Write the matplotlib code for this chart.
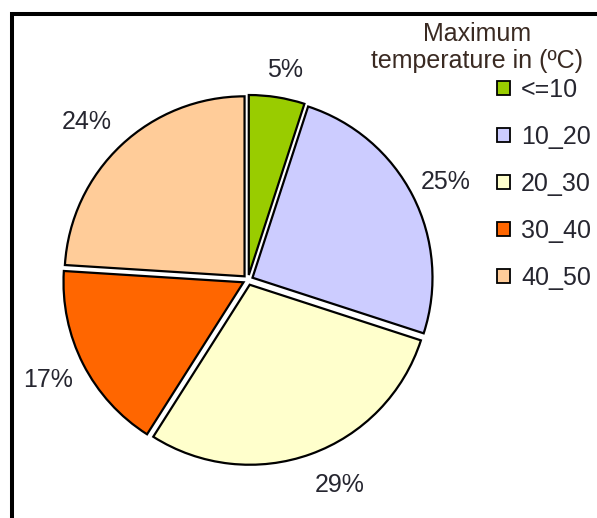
import matplotlib
matplotlib.use("Agg")
import numpy as np
import matplotlib.pyplot as plt
from matplotlib.patches import Patch, Rectangle

plt.rcParams['font.family'] = ['Liberation Sans', 'DejaVu Sans']

categories = ['<=10', '10_20', '20_30', '30_40', '40_50']
shares = [5, 25, 29, 17, 24]
colors = ['#99CC00', '#CCCCFF', '#FFFFCC', '#FF6600', '#FFCC99']
legend_title = 'Maximum\ntemperature in (ºC)'

# placement of the percentage labels: radius (pie radii) and angular nudge (deg)
label_radius = [1.20, 1.235, 1.235, 1.234, 1.265]
label_nudge = [-1.0, 0.0, 4.6, -0.9, 2.0]

W, H = 597, 518
fig = plt.figure(figsize=(W / 100, H / 100), dpi=100)

# outer chart-area border (extends past the right and bottom edges)
fig.patches.append(Rectangle((12 / W, -0.2), 1.5, 1.2 - 14 / H,
                             transform=fig.transFigure, fill=False,
                             edgecolor='black', linewidth=2.9, zorder=0))

# pie axes: centre at (248, 280) px, radius 180 px
cx, cy, R, L = 248, 280, 180, 232
ax = fig.add_axes([(cx - L) / W, (H - cy - L) / H, 2 * L / W, 2 * L / H])
lim = L / R
ax.set_aspect('equal')
ax.axis('off')

wedges, _, autotexts = ax.pie(
    shares, colors=colors, startangle=90, counterclock=False,
    explode=[0.028] * len(shares), radius=1.0,
    autopct=lambda p: f'{p:.0f}%', pctdistance=1.22,
    wedgeprops=dict(edgecolor='black', linewidth=1.6),
    textprops=dict(fontsize=18, color='#262630'))
ax.set_xlim(-lim, lim)
ax.set_ylim(-lim, lim)

# move the percentage labels to their final spots around the pie
for w, t, r, d in zip(wedges, autotexts, label_radius, label_nudge):
    ang = np.deg2rad((w.theta1 + w.theta2) / 2 + d)
    t.set_position((r * np.cos(ang), r * np.sin(ang)))
    t.set_va('center_baseline')

# legend title, centred above the entries
fig.text(477 / W, 1 - 47.5 / H, legend_title, ha='center', va='center',
         multialignment='center', fontsize=18, linespacing=1.12,
         color='#3a2a22')

handles = [Patch(facecolor=c, edgecolor='black', linewidth=1.3) for c in colors]
leg = fig.legend(handles, categories, loc='upper right',
                 bbox_to_anchor=(591 / W, (H - 78) / H), frameon=False,
                 fontsize=18, handlelength=0.52, handleheight=0.52,
                 handletextpad=0.45, labelspacing=0.92,
                 borderpad=0, borderaxespad=0)
for t in leg.get_texts():
    t.set_color('#262630')

fig.savefig('out.png', dpi=100)
